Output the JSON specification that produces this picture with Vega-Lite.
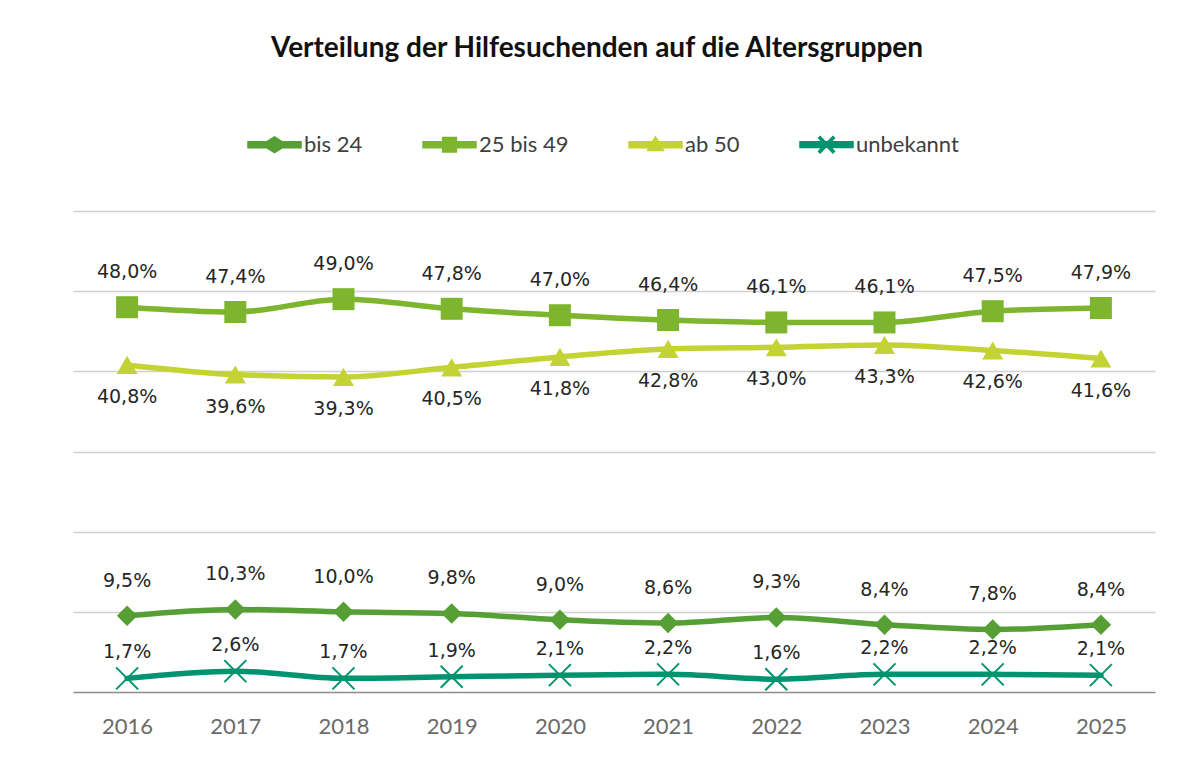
{
  "$schema": "https://vega.github.io/schema/vega-lite/v6.json",
  "width": 1082,
  "height": 481,
  "autosize": {"type": "none"},
  "padding": {"left": 73, "top": 211, "right": 36, "bottom": 84},
  "background": "white",
  "config": {
    "view": {"stroke": null},
    "locale": {"number": {"decimal": ",", "thousands": ".", "grouping": [3], "currency": ["", " €"]}}
  },
  "title": {
    "text": "Verteilung der Hilfesuchenden auf die Altersgruppen",
    "font": "Lato",
    "fontSize": 28,
    "fontWeight": "bold",
    "color": "#111111",
    "anchor": "middle",
    "dx": -17,
    "offset": 54
  },
  "data": {
    "values": [
      {"Jahr": "2016", "Gruppe": "bis 24", "Anteil": 0.095},
      {"Jahr": "2017", "Gruppe": "bis 24", "Anteil": 0.103},
      {"Jahr": "2018", "Gruppe": "bis 24", "Anteil": 0.100},
      {"Jahr": "2019", "Gruppe": "bis 24", "Anteil": 0.098},
      {"Jahr": "2020", "Gruppe": "bis 24", "Anteil": 0.090},
      {"Jahr": "2021", "Gruppe": "bis 24", "Anteil": 0.086},
      {"Jahr": "2022", "Gruppe": "bis 24", "Anteil": 0.093},
      {"Jahr": "2023", "Gruppe": "bis 24", "Anteil": 0.084},
      {"Jahr": "2024", "Gruppe": "bis 24", "Anteil": 0.078},
      {"Jahr": "2025", "Gruppe": "bis 24", "Anteil": 0.084},
      {"Jahr": "2016", "Gruppe": "25 bis 49", "Anteil": 0.480},
      {"Jahr": "2017", "Gruppe": "25 bis 49", "Anteil": 0.474},
      {"Jahr": "2018", "Gruppe": "25 bis 49", "Anteil": 0.490},
      {"Jahr": "2019", "Gruppe": "25 bis 49", "Anteil": 0.478},
      {"Jahr": "2020", "Gruppe": "25 bis 49", "Anteil": 0.470},
      {"Jahr": "2021", "Gruppe": "25 bis 49", "Anteil": 0.464},
      {"Jahr": "2022", "Gruppe": "25 bis 49", "Anteil": 0.461},
      {"Jahr": "2023", "Gruppe": "25 bis 49", "Anteil": 0.461},
      {"Jahr": "2024", "Gruppe": "25 bis 49", "Anteil": 0.475},
      {"Jahr": "2025", "Gruppe": "25 bis 49", "Anteil": 0.479},
      {"Jahr": "2016", "Gruppe": "ab 50", "Anteil": 0.408},
      {"Jahr": "2017", "Gruppe": "ab 50", "Anteil": 0.396},
      {"Jahr": "2018", "Gruppe": "ab 50", "Anteil": 0.393},
      {"Jahr": "2019", "Gruppe": "ab 50", "Anteil": 0.405},
      {"Jahr": "2020", "Gruppe": "ab 50", "Anteil": 0.418},
      {"Jahr": "2021", "Gruppe": "ab 50", "Anteil": 0.428},
      {"Jahr": "2022", "Gruppe": "ab 50", "Anteil": 0.430},
      {"Jahr": "2023", "Gruppe": "ab 50", "Anteil": 0.433},
      {"Jahr": "2024", "Gruppe": "ab 50", "Anteil": 0.426},
      {"Jahr": "2025", "Gruppe": "ab 50", "Anteil": 0.416},
      {"Jahr": "2016", "Gruppe": "unbekannt", "Anteil": 0.017},
      {"Jahr": "2017", "Gruppe": "unbekannt", "Anteil": 0.026},
      {"Jahr": "2018", "Gruppe": "unbekannt", "Anteil": 0.017},
      {"Jahr": "2019", "Gruppe": "unbekannt", "Anteil": 0.019},
      {"Jahr": "2020", "Gruppe": "unbekannt", "Anteil": 0.021},
      {"Jahr": "2021", "Gruppe": "unbekannt", "Anteil": 0.022},
      {"Jahr": "2022", "Gruppe": "unbekannt", "Anteil": 0.016},
      {"Jahr": "2023", "Gruppe": "unbekannt", "Anteil": 0.022},
      {"Jahr": "2024", "Gruppe": "unbekannt", "Anteil": 0.022},
      {"Jahr": "2025", "Gruppe": "unbekannt", "Anteil": 0.021}
    ]
  },
  "encoding": {
    "x": {
      "field": "Jahr",
      "type": "ordinal",
      "scale": {"paddingInner": 0, "paddingOuter": 0.5},
      "axis": {
        "title": null,
        "labelAngle": 0,
        "labelFont": "Lato",
        "labelFontSize": 22,
        "labelColor": "#6a6a6a",
        "labelPadding": 24,
        "ticks": false,
        "domain": true,
        "domainColor": "#8c8c8c",
        "domainWidth": 1.5,
        "grid": false
      }
    },
    "y": {
      "field": "Anteil",
      "type": "quantitative",
      "scale": {"domain": [0, 0.6], "nice": false},
      "axis": {
        "title": null,
        "labels": false,
        "ticks": false,
        "domain": false,
        "grid": true,
        "gridColor": "#d0d0d0",
        "gridWidth": 1.5,
        "values": [0.1, 0.2, 0.3, 0.4, 0.5, 0.6]
      }
    },
    "color": {
      "field": "Gruppe",
      "type": "nominal",
      "scale": {
        "domain": ["bis 24", "25 bis 49", "ab 50", "unbekannt"],
        "range": ["#559f35", "#7db52e", "#c3d334", "#00936f"]
      },
      "legend": {
        "title": null,
        "orient": "none",
        "legendX": 174,
        "legendY": -94,
        "direction": "horizontal",
        "columnPadding": 57,
        "labelFont": "Lato",
        "labelFontSize": 22,
        "labelColor": "#404040",
        "labelOffset": 2,
        "symbolSize": 2809,
        "symbolOpacity": 1,
        "symbolStrokeWidth": 1.5
      }
    }
  },
  "layer": [
    {
      "mark": {"type": "line", "strokeWidth": 5.5, "interpolate": "monotone", "strokeCap": "round"},
      "encoding": {"detail": {"field": "Gruppe"}}
    },
    {
      "transform": [{"filter": "false"}],
      "mark": {"type": "point", "filled": true, "opacity": 1},
      "encoding": {
        "shape": {
          "field": "Gruppe",
          "type": "nominal",
          "scale": {
            "domain": ["bis 24", "25 bis 49", "ab 50", "unbekannt"],
            "range": [
              "M-1,-0.11H-0.3L0,-0.3L0.3,-0.11H1V0.11H0.3L0,0.3L-0.3,0.11H-1Z",
              "M-1,-0.11H-0.26V-0.27H0.26V-0.11H1V0.11H0.26V0.27H-0.26V0.11H-1Z",
              "M-1,-0.11H-0.12L0,-0.3L0.12,-0.11H1V0.11H0.24L0.3,0.22H-0.3L-0.24,0.11H-1Z",
              "M-1,-0.11H1V0.11H-1Z M-0.241,-0.308L0.299,0.252L0.241,0.308L-0.299,-0.252Z M-0.299,0.252L0.241,-0.308L0.299,-0.252L-0.241,0.308Z"
            ]
          },
          "legend": {
            "title": null,
            "orient": "none",
            "legendX": 174,
            "legendY": -94,
            "direction": "horizontal",
            "columnPadding": 57,
            "labelFont": "Lato",
            "labelFontSize": 22,
            "labelColor": "#404040",
            "labelOffset": 2,
            "symbolSize": 2809,
            "symbolOpacity": 1,
            "symbolStrokeWidth": 1.5
          }
        }
      }
    },
    {
      "transform": [{"filter": "datum.Gruppe === 'bis 24'"}],
      "mark": {"type": "point", "filled": true, "opacity": 1, "shape": "diamond", "size": 420}
    },
    {
      "transform": [{"filter": "datum.Gruppe === '25 bis 49'"}],
      "mark": {"type": "point", "filled": true, "opacity": 1, "shape": "square", "size": 484}
    },
    {
      "transform": [{"filter": "datum.Gruppe === 'ab 50'"}],
      "mark": {"type": "point", "filled": true, "opacity": 1, "shape": "triangle-up", "size": 440}
    },
    {
      "transform": [{"filter": "datum.Gruppe === 'unbekannt'"}],
      "mark": {"type": "point", "filled": false, "shape": "M-1,-1L1,1M-1,1L1,-1", "size": 484, "strokeWidth": 2, "opacity": 1}
    },
    {
      "transform": [{"filter": "datum.Gruppe === '25 bis 49' || datum.Gruppe === 'bis 24'"}],
      "mark": {"type": "text", "font": "DejaVu Sans", "fontSize": 19, "dy": -35},
      "encoding": {"text": {"field": "Anteil", "type": "quantitative", "format": ".1%"}, "color": {"value": "#262626"}}
    },
    {
      "transform": [{"filter": "datum.Gruppe === 'ab 50'"}],
      "mark": {"type": "text", "font": "DejaVu Sans", "fontSize": 19, "dy": 32},
      "encoding": {"text": {"field": "Anteil", "type": "quantitative", "format": ".1%"}, "color": {"value": "#262626"}}
    },
    {
      "transform": [{"filter": "datum.Gruppe === 'unbekannt'"}],
      "mark": {"type": "text", "font": "DejaVu Sans", "fontSize": 19, "dy": -26},
      "encoding": {"text": {"field": "Anteil", "type": "quantitative", "format": ".1%"}, "color": {"value": "#262626"}}
    }
  ]
}
